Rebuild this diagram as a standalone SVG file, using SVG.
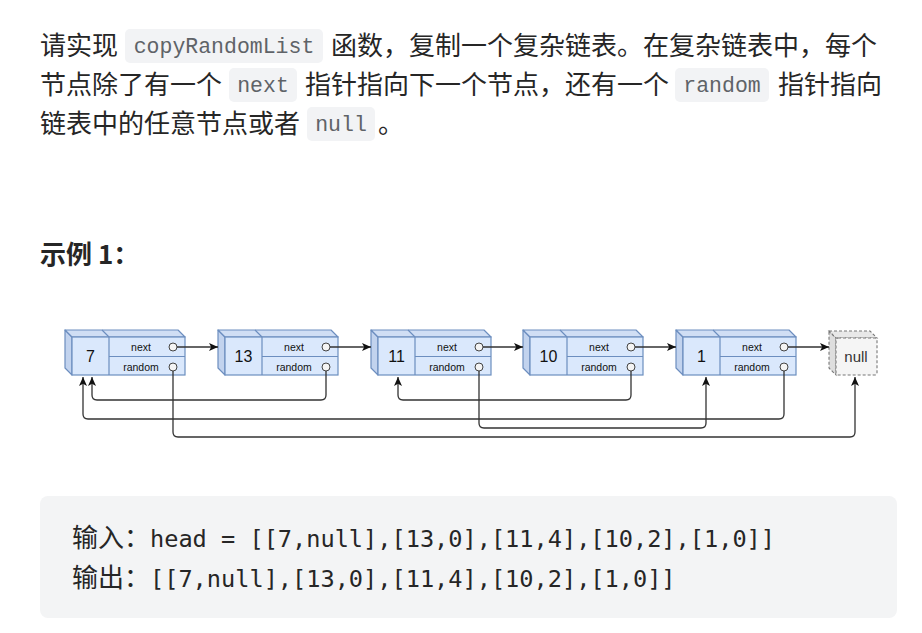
<svg xmlns="http://www.w3.org/2000/svg" width="922" height="633" viewBox="0 0 922 633">
<style>
.t{font-family:"Noto Sans CJK SC","Noto Sans",sans-serif;font-size:26px;fill:#262626}
.b{font-weight:bold}
.ic{font-family:"Liberation Mono","DejaVu Sans Mono",monospace;font-size:21.5px;fill:#5f6368;text-anchor:middle}
.icb{fill:#f2f3f5}
.code{font-family:"DejaVu Sans Mono",monospace;font-size:23.6px;fill:#262626}
.front{fill:#dae8fc;stroke:#6c8ebf;stroke-width:1.2}
.top{fill:#d0def4;stroke:#6c8ebf;stroke-width:1.2;stroke-linejoin:round}
.side{fill:#c2d3ee;stroke:#6c8ebf;stroke-width:1.2;stroke-linejoin:round}
.div{stroke:#6c8ebf;stroke-width:1.2;fill:none}
.num{font-family:"Liberation Sans","DejaVu Sans",sans-serif;font-size:16px;fill:#111;text-anchor:middle}
.fld{font-family:"Liberation Sans","DejaVu Sans",sans-serif;font-size:10.5px;fill:#111;text-anchor:middle}
.dot{fill:#f4f4f4;stroke:#444;stroke-width:1}
.nf{fill:#f5f5f5;stroke:#777;stroke-width:1.1;stroke-dasharray:3 2}
.nt{fill:#e8e8e8;stroke:#777;stroke-width:1.1;stroke-dasharray:3 2}
.ns{fill:#dedede;stroke:#777;stroke-width:1.1;stroke-dasharray:3 2}
.lnk{fill:none;stroke:#333;stroke-width:1.3;stroke-linejoin:round}
</style>
<defs>
<marker id="ah" markerUnits="userSpaceOnUse" markerWidth="10" markerHeight="10" refX="9" refY="4" orient="auto">
<path d="M0,0 L9,4 L0,8 L2.2,4 Z" fill="#111"/>
</marker>
<g id="cube">
<polygon class="side" points="-7,-7 0,0 0,38 -7,31"/>
<polygon class="top" points="-7,-7 106,-7 113,0 0,0"/>
<rect class="front" x="0" y="0" width="113" height="38"/>
<path class="div" d="M37,0 V38 M30,-7 L37,0 M37,19.5 H113"/>
<text class="fld" x="69" y="14">next</text>
<text class="fld" x="69" y="34">random</text>
<circle class="dot" cx="101" cy="10" r="4"/>
<circle class="dot" cx="101" cy="30" r="4"/>
</g>
</defs>
<rect width="922" height="633" fill="#ffffff"/>

<g id="paragraph">
<text class="t" x="40" y="55">请实现</text>
<rect class="icb" x="125" y="29" width="198" height="34" rx="5"/>
<text class="ic" x="224" y="53">copyRandomList</text>
<text class="t" x="331" y="55">函数，复制一个复杂链表。在复杂链表中，每个</text>
<text class="t" x="40" y="94">节点除了有一个</text>
<rect class="icb" x="229" y="68" width="68" height="34" rx="5"/>
<text class="ic" x="263" y="92">next</text>
<text class="t" x="305" y="94">指针指向下一个节点，还有一个</text>
<rect class="icb" x="675" y="68" width="94" height="34" rx="5"/>
<text class="ic" x="722" y="92">random</text>
<text class="t" x="778" y="94">指针指向</text>
<text class="t" x="40" y="133">链表中的任意节点或者</text>
<rect class="icb" x="307" y="107" width="68" height="34" rx="5"/>
<text class="ic" x="341" y="131">null</text>
<text class="t" x="378" y="133">。</text>
</g>

<g id="example-title">
<text class="t b" x="40" y="264">示例 1：</text>
</g>

<g id="node-7">
<use href="#cube" transform="translate(72,337)"/>
<text class="num" x="90.5" y="362">7</text>
</g>
<g id="node-13">
<use href="#cube" transform="translate(225,337)"/>
<text class="num" x="243.5" y="362">13</text>
</g>
<g id="node-11">
<use href="#cube" transform="translate(378,337)"/>
<text class="num" x="396.5" y="362">11</text>
</g>
<g id="node-10">
<use href="#cube" transform="translate(530,337)"/>
<text class="num" x="548.5" y="362">10</text>
</g>
<g id="node-1">
<use href="#cube" transform="translate(683,337)"/>
<text class="num" x="701.5" y="362">1</text>
</g>
<g id="node-null">
<polygon class="ns" points="829,331 836,338 836,375 829,368"/>
<polygon class="nt" points="829,331 870,331 877,338 836,338"/>
<rect class="nf" x="836" y="338" width="41" height="37" rx="2"/>
<text class="num" x="856" y="362" style="font-size:15px;fill:#333">null</text>
</g>

<g id="connectors">
<path class="lnk" marker-end="url(#ah)" d="M177,347 H218"/>
<path class="lnk" marker-end="url(#ah)" d="M330,347 H371"/>
<path class="lnk" marker-end="url(#ah)" d="M483,347 H523"/>
<path class="lnk" marker-end="url(#ah)" d="M635,347 H676"/>
<path class="lnk" marker-end="url(#ah)" d="M788,347 H829"/>
<path class="lnk" marker-end="url(#ah)" d="M173,371 V432 Q173,437 178,437 H850 Q855,437 855,432 V377"/>
<path class="lnk" marker-end="url(#ah)" d="M326,371 V395 Q326,400 321,400 H97 Q92,400 92,395 V377"/>
<path class="lnk" marker-end="url(#ah)" d="M479,371 V423 Q479,428 484,428 H701 Q706,428 706,423 V377"/>
<path class="lnk" marker-end="url(#ah)" d="M631,371 V395 Q631,400 626,400 H403 Q398,400 398,395 V377"/>
<path class="lnk" marker-end="url(#ah)" d="M784,371 V414 Q784,419 779,419 H88 Q83,419 83,414 V377"/>
</g>

<g id="code-block">
<rect x="40" y="496" width="857" height="122" rx="8" fill="#f3f4f5"/>
<text class="t" x="72" y="547">输入：</text>
<text class="code" x="150" y="547">head = [[7,null],[13,0],[11,4],[10,2],[1,0]]</text>
<text class="t" x="72" y="587">输出：</text>
<text class="code" x="150" y="587">[[7,null],[13,0],[11,4],[10,2],[1,0]]</text>
</g>
</svg>
